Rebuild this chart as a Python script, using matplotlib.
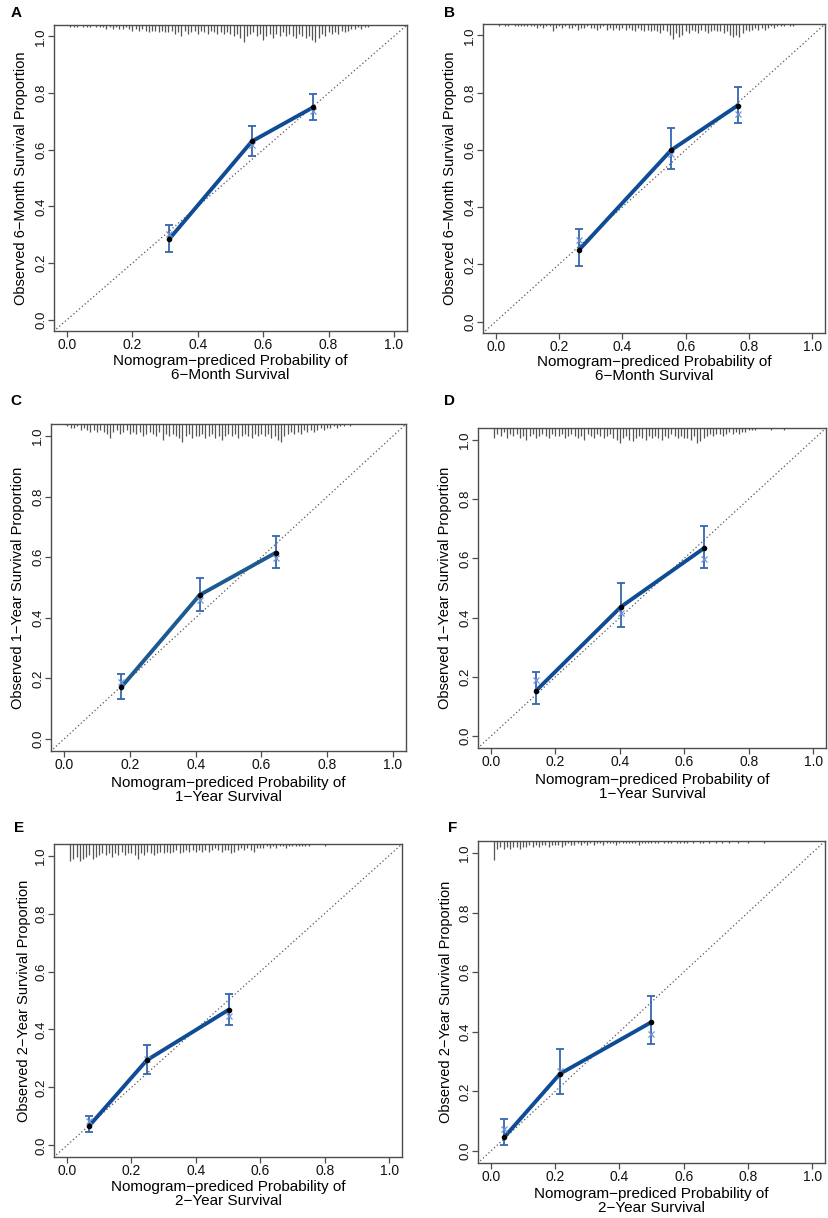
import numpy as np
import matplotlib
matplotlib.use("Agg")
import matplotlib.pyplot as plt

plt.rcParams['font.family'] = ['Liberation Sans', 'DejaVu Sans']

W, H = 829, 1218

# calibration points per panel: predicted, observed, CI low, CI high, bias-corrected
panels = ["A", "B", "C", "D", "E", "F"]
horizon = ["6\u2212Month", "6\u2212Month", "1\u2212Year", "1\u2212Year", "2\u2212Year", "2\u2212Year"]

pred_A = [0.313, 0.565, 0.752]
obs_A = [0.285, 0.629, 0.749]
lo_A = [0.239, 0.579, 0.704]
hi_A = [0.335, 0.685, 0.798]
corr_A = [0.302, 0.615, 0.735]

pred_B = [0.264, 0.554, 0.764]
obs_B = [0.251, 0.599, 0.755]
lo_B = [0.194, 0.532, 0.693]
hi_B = [0.324, 0.678, 0.820]
corr_B = [0.286, 0.585, 0.724]

pred_C = [0.174, 0.412, 0.644]
obs_C = [0.171, 0.475, 0.615]
lo_C = [0.133, 0.423, 0.564]
hi_C = [0.215, 0.532, 0.670]
corr_C = [0.187, 0.460, 0.598]

pred_D = [0.139, 0.403, 0.661]
obs_D = [0.152, 0.436, 0.634]
lo_D = [0.108, 0.370, 0.566]
hi_D = [0.216, 0.516, 0.709]
corr_D = [0.188, 0.416, 0.599]

pred_E = [0.069, 0.248, 0.502]
obs_E = [0.067, 0.294, 0.468]
lo_E = [0.046, 0.248, 0.415]
hi_E = [0.100, 0.347, 0.524]
corr_E = [0.084, 0.297, 0.447]

pred_F = [0.042, 0.215, 0.499]
obs_F = [0.047, 0.259, 0.432]
lo_F = [0.019, 0.193, 0.358]
hi_F = [0.106, 0.344, 0.520]
corr_F = [0.073, 0.270, 0.393]

# frequency of predicted probabilities in 0.01 bins starting at 0.01 (top rug)
rug_A = [1,1,1,0,1,1,1,0,1,1, 1,2,1,2,1,2,2,1,2,3, 2,3,2,3,4,3,3,4,3,4,
         4,3,5,4,6,3,5,4,3,5, 3,4,5,3,4,5,4,5,4,5, 6,5,7,9,6,5,4,6,5,8,
         6,5,7,5,6,4,6,5,6,7, 5,6,7,6,8,9,7,5,6,4, 5,4,5,3,4,3,2,2,1,2, 1,1]
rug_B = [1,0,1,1,0,1,1,1,1,1, 1,1,2,1,2,1,1,4,2,1, 2,1,2,2,1,3,2,2,1,2,
         2,3,2,1,3,2,3,2,3,2, 3,2,3,4,2,3,4,3,4,3, 4,5,3,4,6,8,5,7,6,4,
         5,3,4,5,3,4,5,4,3,4, 4,5,4,6,7,6,7,5,3,4, 3,2,3,2,3,2,1,2,1,1, 1,0,1,1]
rug_C = [1,2,2,1,3,2,3,4,3,4, 3,4,5,7,4,3,5,4,3,5, 4,5,4,6,5,4,5,6,4,8,
         5,6,5,6,7,9,6,5,7,6, 6,5,7,6,5,7,6,8,6,5, 6,5,7,6,5,6,7,5,6,5,
         6,5,7,6,8,9,6,5,4,5, 4,5,3,4,3,4,3,2,3,2, 2,1,2,1,1,0,1]
rug_D = [5,3,4,2,5,3,4,3,5,4, 6,4,3,5,4,3,4,5,3,4, 4,3,5,4,3,4,5,4,6,3,
         4,5,3,4,5,4,3,5,6,8, 5,4,6,7,5,4,5,6,4,5, 4,5,6,4,5,3,4,5,4,5,
         5,6,4,8,7,5,4,3,4,3, 3,4,3,2,3,2,3,2,2,1, 1,1,0,0,0,0,1,0,0,0,1]
rug_E = [9,8,7,9,8,7,6,8,7,6, 5,6,5,7,5,6,4,6,5,5, 6,8,5,6,4,5,6,5,4,5,
         4,5,4,3,5,4,3,4,3,4, 3,4,3,4,3,2,3,4,3,3, 5,4,3,2,3,2,3,4,2,2,
         2,1,2,1,2,1,1,2,1,1, 1,1,1,1,1,0,0,0,0,1]
rug_F = [10,4,3,4,3,4,3,3,4,3, 3,2,3,2,3,2,2,3,2,2, 2,3,2,1,2,2,1,2,1,2,
         1,2,1,1,2,1,1,1,2,1, 1,1,1,1,1,2,1,1,1,1, 1,1,0,1,1,1,0,1,1,1,
         1,0,1,0,1,1,0,1,0,1, 0,1,0,1,0,0,1,0,0,1, 0,0,0,0,1]

data = {
    "A": (pred_A, obs_A, lo_A, hi_A, corr_A, rug_A),
    "B": (pred_B, obs_B, lo_B, hi_B, corr_B, rug_B),
    "C": (pred_C, obs_C, lo_C, hi_C, corr_C, rug_C),
    "D": (pred_D, obs_D, lo_D, hi_D, corr_D, rug_D),
    "E": (pred_E, obs_E, lo_E, hi_E, corr_E, rug_E),
    "F": (pred_F, obs_F, lo_F, hi_F, corr_F, rug_F),
}

# axes boxes in pixels: left, top, right, bottom ; panel letter pos ; ylabel x ; xlabel centre y
boxes = {
    "A": (54, 25, 407, 331, (16, 13), 21, 368),
    "B": (483, 24, 825, 333, (450, 13), 450, 369),
    "C": (51, 424, 406, 751, (16, 401), 18, 790),
    "D": (478, 428, 826, 748, (450, 401), 445, 787),
    "E": (54, 844, 402, 1157, (19, 828), 24, 1194),
    "F": (478, 841, 825, 1163, (453, 828), 446, 1201),
}

line_col = ["#0e4c96", "#0e4c96", "#1d5a92", "#0e4c96", "#0e4c96", "#0e4c96"]
frame_col = "#4d4d4d"

fig = plt.figure(figsize=(W / 100, H / 100), dpi=100)

for i, p in enumerate(panels):
    pred, obs, lo, hi, corr, rug = data[p]
    l, t, r, b, let, ylx, xly = boxes[p]
    ax = fig.add_axes([l / W, 1 - b / H, (r - l) / W, (b - t) / H])
    ax.set_xlim(-0.04, 1.04)
    ax.set_ylim(-0.04, 1.04)

    # ideal line
    ax.plot([-0.05, 1.05], [-0.05, 1.05], ls=(0, (1, 2)), color="#555555", lw=0.9)

    # rug of predicted probabilities hanging from the top
    xs = 0.01 * (np.arange(len(rug)) + 1)
    cnt = np.array(rug)
    keep = cnt > 0
    ax.vlines(xs[keep], 1.04 - 0.0065 * cnt[keep], 1.04, color="#555555", lw=0.9)

    # calibration curve
    ax.plot(pred, obs, color=line_col[i], lw=2.8, solid_capstyle="butt", zorder=3)
    ax.errorbar(pred, obs, yerr=[np.array(obs) - np.array(lo), np.array(hi) - np.array(obs)],
                fmt="none", ecolor="#3567b0", elinewidth=1.3, capsize=3, capthick=1.3, zorder=4)
    ax.plot(pred, corr, "x", color="#6f93d6", ms=4, mew=0.9, zorder=5)
    ax.plot(pred, obs, "o", color="black", ms=3.0, zorder=6)

    ticks = [0.0, 0.2, 0.4, 0.6, 0.8, 1.0]
    ax.set_xticks(ticks)
    ax.set_yticks(ticks)
    ax.set_xticklabels(["%.1f" % v for v in ticks], fontsize=10)
    ax.set_yticklabels(["%.1f" % v for v in ticks], rotation=90, va="center", fontsize=9.5)
    ax.tick_params(direction="out", length=4.5, width=0.9, color=frame_col,
                   pad=0.5, labelcolor="#111111")
    for s in ax.spines.values():
        s.set_color(frame_col)
        s.set_linewidth(1.0)

    ax.set_xlabel("Nomogram\u2212prediced Probability of\n" + horizon[i] + " Survival",
                  fontsize=11, linespacing=0.98, va="center")
    ax.set_ylabel("Observed " + horizon[i] + " Survival Proportion", fontsize=10.5, va="center")
    ax.xaxis.set_label_coords(((l + r) / 2 - l) / (r - l), -(xly - b) / (b - t))
    ax.yaxis.set_label_coords(-(l - ylx) / (r - l), 0.5)

    fig.text(let[0] / W, 1 - let[1] / H, p, fontsize=11, fontweight="bold",
             ha="center", va="center")

fig.savefig("out.png", dpi=100)
